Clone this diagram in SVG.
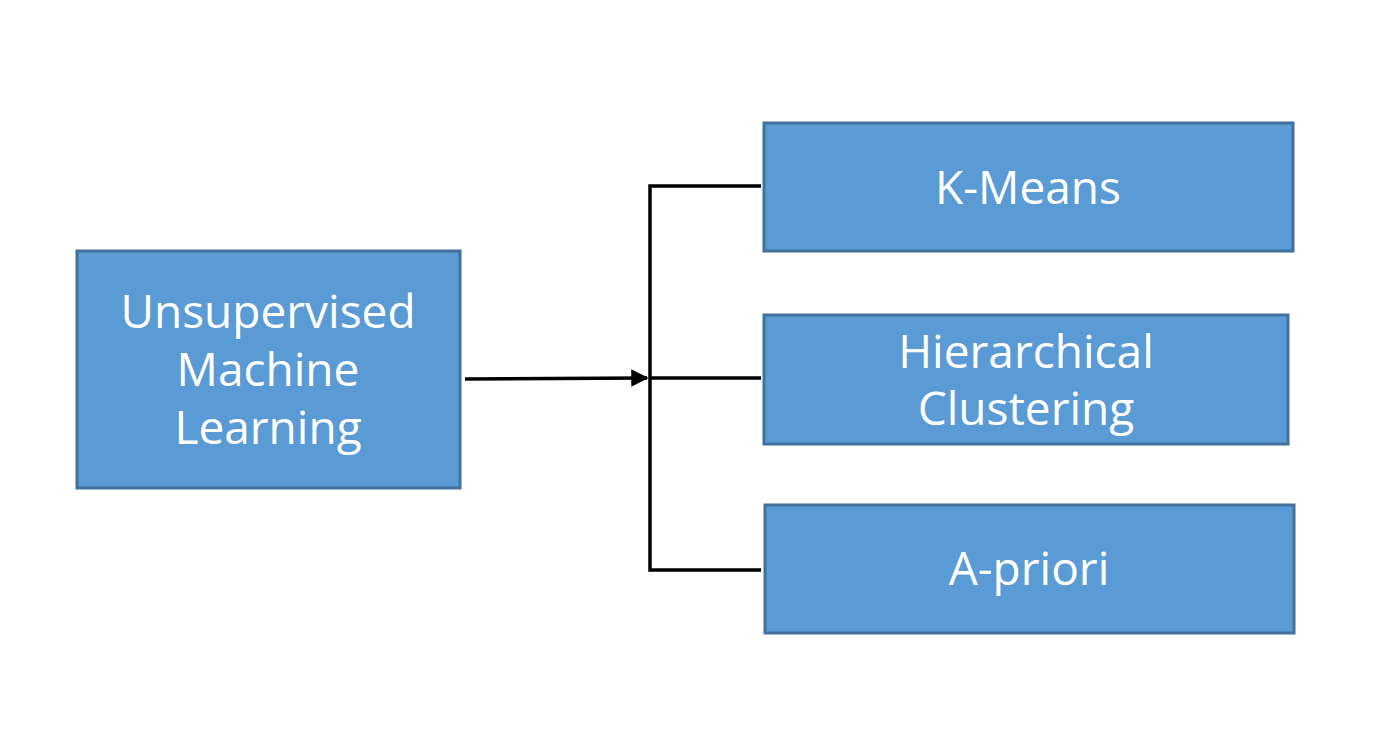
<svg xmlns="http://www.w3.org/2000/svg" width="1400" height="746" viewBox="0 0 1400 746">
<style>
.box{fill:#5B9BD5;stroke:#41719C;stroke-width:3}
.lbl{font-family:"Comic Sans MS","Open Sans","Noto Sans",sans-serif;font-size:46px;fill:#FFFFFF;text-anchor:middle}
.ln{stroke:#000;stroke-width:3.5;fill:none}
</style>
<defs>
<marker id="arr" markerWidth="5" markerHeight="5" refX="4.5" refY="2.5" orient="auto" markerUnits="strokeWidth">
<path d="M0,0 L5,2.5 L0,5 Z" fill="#000"/>
</marker>
</defs>
<rect width="1400" height="746" fill="#fff"/>
<g id="connectors">
<line class="ln" x1="465" y1="379" x2="647" y2="378" marker-end="url(#arr)"/>
<polyline class="ln" points="761,186 650,186 650,570 761,570"/>
<line class="ln" x1="650" y1="378" x2="761" y2="378"/>
</g>
<g id="n-uml">
<rect class="box" x="77" y="251" width="383" height="237"/>
<text class="lbl" x="268" y="328">Unsupervised</text>
<text class="lbl" x="268" y="386">Machine</text>
<text class="lbl" x="268" y="444">Learning</text>
</g>
<g id="n-kmeans">
<rect class="box" x="764" y="123" width="529" height="128"/>
<text class="lbl" x="1028" y="204">K-Means</text>
</g>
<g id="n-hier">
<rect class="box" x="764" y="315" width="524" height="129"/>
<text class="lbl" x="1026" y="368">Hierarchical</text>
<text class="lbl" x="1026" y="425">Clustering</text>
</g>
<g id="n-apriori">
<rect class="box" x="765" y="505" width="529" height="128"/>
<text class="lbl" x="1029" y="585">A-priori</text>
</g>
</svg>
